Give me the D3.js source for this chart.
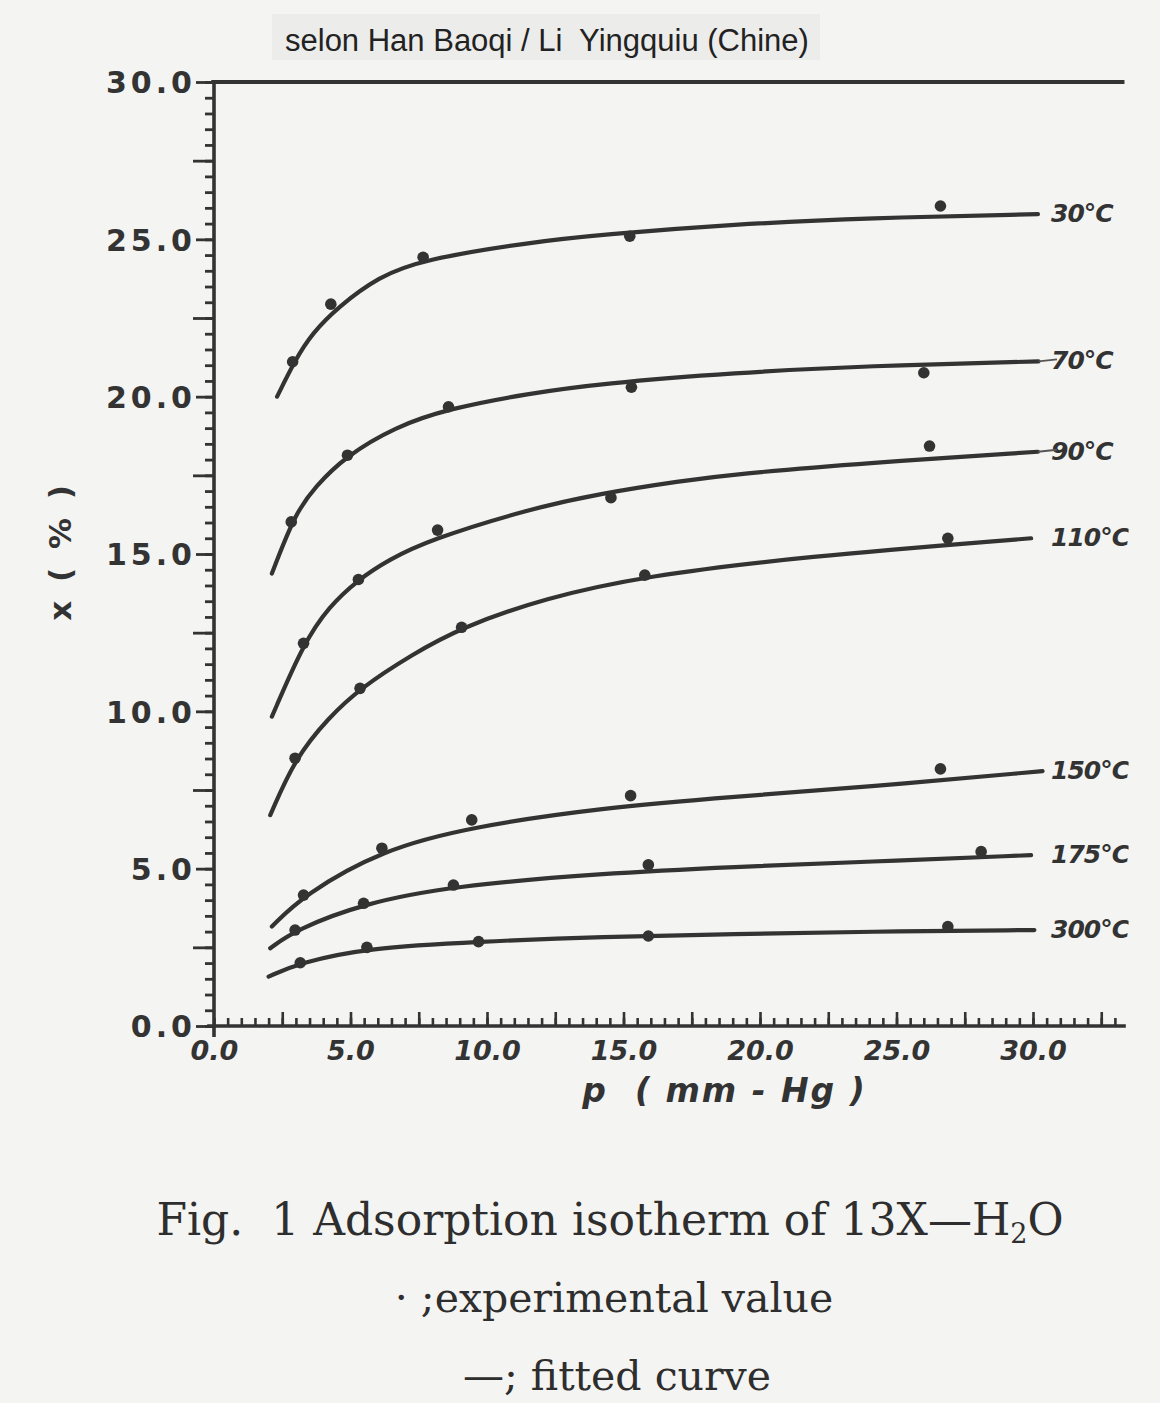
<!DOCTYPE html>
<html>
<head>
<meta charset="utf-8">
<script src="https://cdn.jsdelivr.net/npm/d3@7"></script>
<style>
  body { margin: 0; background: #f4f4f2; }
  svg { display: block; }
  .axis path, .axis line { stroke: #333; }
  .tick-label { font-family: "DejaVu Sans", sans-serif; font-weight: bold; fill: #333; }
  .fit { fill: none; stroke: #333; stroke-width: 4.2; stroke-linecap: round; }
  .caption { font-family: "DejaVu Serif", serif; fill: #2e2e2e; }
</style>
</head>
<body>
<div id="chart"></div>
<script>
// 13X-H2O adsorption isotherms, redrawn from a scanned figure.

const width = 1160;
const height = 1403;

// tick values
const pressureTicks = [0, 5, 10, 15, 20, 25, 30];
const uptakeTicks = [0, 5, 10, 15, 20, 25, 30];

// one label per isotherm
const temps = ["30°C", "70°C", "90°C", "110°C", "150°C", "175°C", "300°C"];

// experimental points [p mm-Hg, x %]
const exp30 = [[2.88, 21.11], [4.28, 22.94], [7.66, 24.43], [15.23, 25.10], [26.61, 26.06]];
const exp70 = [[2.83, 16.02], [4.89, 18.14], [8.59, 19.68], [15.29, 20.30], [26.00, 20.76]];
const exp90 = [[3.28, 12.16], [5.29, 14.19], [8.19, 15.76], [14.54, 16.79], [26.21, 18.43]];
const exp110 = [[2.97, 8.51], [5.35, 10.73], [9.07, 12.67], [15.78, 14.33], [26.88, 15.50]];
const exp150 = [[3.28, 4.16], [6.15, 5.65], [9.44, 6.55], [15.26, 7.32], [26.61, 8.17]];
const exp175 = [[2.97, 3.05], [5.48, 3.90], [8.77, 4.48], [15.91, 5.12], [28.10, 5.54]];
const exp300 = [[3.16, 2.01], [5.60, 2.50], [9.69, 2.68], [15.91, 2.86], [26.88, 3.16]];

// fitted curves
const fit30 = [[2.31, 20.0], [2.97, 21.16], [3.59, 22.01], [4.56, 22.86], [6.03, 23.81], [7.61, 24.35],
  [11.51, 24.9], [14.2, 25.15], [19.06, 25.48], [23.96, 25.68], [30.18, 25.80]];
const fit70 = [[2.12, 14.38], [2.97, 16.29], [3.71, 17.14], [4.8, 18.09], [6.63, 19.04], [8.59, 19.62],
  [11.51, 20.10], [14.2, 20.42], [19.07, 20.76], [23.96, 20.98], [30.2, 21.12]];
const fit90 = [[2.12, 9.83], [3.28, 12.16], [4.2, 13.32], [5.29, 14.19], [6.39, 14.81], [7.86, 15.44],
  [11.5, 16.42], [14.2, 16.93], [17.1, 17.32], [19.07, 17.54], [23.96, 17.9], [30.18, 18.25]];
const fit110 = [[2.06, 6.70], [2.97, 8.51], [4.2, 9.8], [5.35, 10.73], [7.24, 11.8], [9.07, 12.67],
  [12.12, 13.6], [15.78, 14.3], [21.51, 14.91], [29.93, 15.50]];
const fit150 = [[2.12, 3.16], [3.28, 4.16], [6.15, 5.6], [9.44, 6.33], [14.2, 6.93], [19.07, 7.29],
  [23.96, 7.60], [30.35, 8.1]];
const fit175 = [[2.06, 2.47], [2.97, 3.05], [5.48, 3.9], [8.77, 4.45], [14.2, 4.85], [19.07, 5.06],
  [23.96, 5.22], [29.93, 5.43]];
const fit300 = [[2.0, 1.57], [3.16, 2.01], [5.6, 2.48], [9.69, 2.68], [14.2, 2.84], [19.07, 2.92],
  [23.96, 3.0], [30.05, 3.05]];

// thin hand-drawn leaders from curve end to label
const leaderTemps = ["70°C", "90°C"];

const expSets = [exp30, exp70, exp90, exp110, exp150, exp175, exp300];
const fitSets = [fit30, fit70, fit90, fit110, fit150, fit175, fit300];

const svg = d3.select("#chart")
  .append("svg")
  .attr("width", width)
  .attr("height", height)
  .attr("viewBox", `0 0 ${width} ${height}`);

const x = d3.scaleLinear().domain([0, 30]).range([214, 1033]);
const y = d3.scaleLinear().domain([0, 30]).range([1026, 82]);

// header box
svg.append("rect")
  .attr("x", 272).attr("y", 14)
  .attr("width", 548).attr("height", 46)
  .attr("fill", "#ececeb");

svg.append("text")
  .attr("x", 285)
  .attr("y", 51)
  .attr("font-family", "'Liberation Sans', Arial, sans-serif")
  .attr("font-size", 31)
  .attr("fill", "#222")
  .attr("xml:space", "preserve")
  .text("selon Han Baoqi / Li  Yingquiu (Chine)");

// y axis: minor, mid and labelled ticks
svg.append("g")
  .attr("class", "axis")
  .attr("transform", `translate(${x(0)},0)`)
  .call(d3.axisLeft(y).tickValues(d3.range(0, 30.01, 0.5)).tickSize(9).tickFormat(""))
  .call(g => g.select(".domain").remove())
  .call(g => g.selectAll("line").attr("stroke-width", 2.8));

svg.append("g")
  .attr("class", "axis")
  .attr("transform", `translate(${x(0)},0)`)
  .call(d3.axisLeft(y).tickValues(d3.range(2.5, 30, 5)).tickSize(21).tickFormat(""))
  .call(g => g.select(".domain").remove())
  .call(g => g.selectAll("line").attr("stroke-width", 2.8));

svg.append("g")
  .attr("class", "axis")
  .attr("transform", `translate(${x(0)},0)`)
  .call(d3.axisLeft(y).tickValues(uptakeTicks).tickSize(18).tickPadding(0).tickFormat(d3.format(".1f")))
  .call(g => g.select(".domain").remove())
  .call(g => g.selectAll("line").attr("stroke-width", 2.8))
  .call(g => g.selectAll("text")
    .attr("class", "tick-label")
    .attr("font-size", 30)
    .attr("letter-spacing", 4)
    .attr("dy", "0.36em"));

// x axis: ticks point up into the plot
svg.append("g")
  .attr("class", "axis")
  .attr("transform", `translate(0,${y(0)})`)
  .call(d3.axisBottom(x).tickValues(d3.range(0, 33.01, 0.5)).tickSize(-8).tickFormat(""))
  .call(g => g.select(".domain").remove())
  .call(g => g.selectAll("line").attr("stroke-width", 2.6));

svg.append("g")
  .attr("class", "axis")
  .attr("transform", `translate(0,${y(0)})`)
  .call(d3.axisBottom(x).tickValues(d3.range(2.5, 33, 2.5)).tickSize(-14).tickFormat(""))
  .call(g => g.select(".domain").remove())
  .call(g => g.selectAll("line").attr("stroke-width", 2.6));

svg.append("g")
  .attr("class", "axis")
  .attr("transform", `translate(0,${y(0)})`)
  .call(d3.axisBottom(x).tickValues(pressureTicks).tickSize(0).tickPadding(14).tickFormat(d3.format(".1f")))
  .call(g => g.select(".domain").remove())
  .call(g => g.selectAll("text")
    .attr("class", "tick-label")
    .attr("font-size", 27)
    .attr("font-style", "italic")
    .attr("dy", "0.75em"));

// frame lines
svg.append("line")
  .attr("x1", x(-0.25)).attr("x2", x(33.4))
  .attr("y1", y(0)).attr("y2", y(0))
  .attr("stroke", "#333").attr("stroke-width", 3.6);

svg.append("line")
  .attr("x1", x(0)).attr("x2", x(0))
  .attr("y1", y(30)).attr("y2", y(-0.35))
  .attr("stroke", "#333").attr("stroke-width", 3.6);

svg.append("line")
  .attr("x1", x(-0.1)).attr("x2", x(33.35))
  .attr("y1", y(30)).attr("y2", y(30))
  .attr("stroke", "#333").attr("stroke-width", 4.2);

// axis titles
svg.append("text")
  .attr("class", "tick-label")
  .attr("transform", `translate(71,${y(15.1)}) rotate(-90)`)
  .attr("text-anchor", "middle")
  .attr("font-size", 31)
  .attr("letter-spacing", 4)
  .attr("xml:space", "preserve")
  .text("x ( % )");

svg.append("text")
  .attr("class", "tick-label")
  .attr("x", x(18.7))
  .attr("y", 1102)
  .attr("text-anchor", "middle")
  .attr("font-size", 33)
  .attr("font-style", "italic")
  .attr("letter-spacing", 2)
  .attr("xml:space", "preserve")
  .text("p  ( mm - Hg )");

// curves and points
const line = d3.line()
  .x(d => x(d[0]))
  .y(d => y(d[1]))
  .curve(d3.curveBasis);

svg.append("clipPath")
  .attr("id", "edge")
  .append("rect")
  .attr("x", 0).attr("y", 0)
  .attr("width", x(33.5)).attr("height", height);

const labelLayer = svg.append("g").attr("clip-path", "url(#edge)");

temps.forEach((t, i) => {
  const fit = fitSets[i];
  const last = fit[fit.length - 1];

  svg.append("path")
    .datum(fit)
    .attr("class", "fit")
    .attr("d", line);

  svg.selectAll(null)
    .data(expSets[i])
    .join("circle")
    .attr("cx", d => x(d[0]))
    .attr("cy", d => y(d[1]))
    .attr("r", 5.8)
    .attr("fill", "#333");

  if (leaderTemps.includes(t)) {
    svg.append("line")
      .attr("x1", x(last[0])).attr("x2", x(30) + 24)
      .attr("y1", y(last[1])).attr("y2", y(last[1]) - 2)
      .attr("stroke", "#555").attr("stroke-width", 1.8);
  }

  labelLayer.append("text")
    .attr("class", "tick-label")
    .attr("x", x(30) + 18)
    .attr("y", y(last[1]))
    .attr("dy", "0.32em")
    .attr("font-size", 25)
    .attr("font-style", "italic")
    .attr("letter-spacing", -1)
    .text(t);
});

// caption
const caption = svg.append("g").attr("class", "caption").attr("text-anchor", "middle");

const cap1 = caption.append("text")
  .attr("x", 610).attr("y", 1235)
  .attr("font-size", 44)
  .attr("xml:space", "preserve");
cap1.append("tspan").text("Fig.  1 Adsorption isotherm of 13X—H");
cap1.append("tspan").attr("font-size", 27).attr("dy", 8).text("2");
cap1.append("tspan").attr("dy", -8).text("O");

caption.append("text")
  .attr("x", 614).attr("y", 1312)
  .attr("font-size", 41)
  .text("· ;experimental value");

caption.append("text")
  .attr("x", 617).attr("y", 1390)
  .attr("font-size", 41)
  .text("—; fitted curve");
</script>
</body>
</html>
